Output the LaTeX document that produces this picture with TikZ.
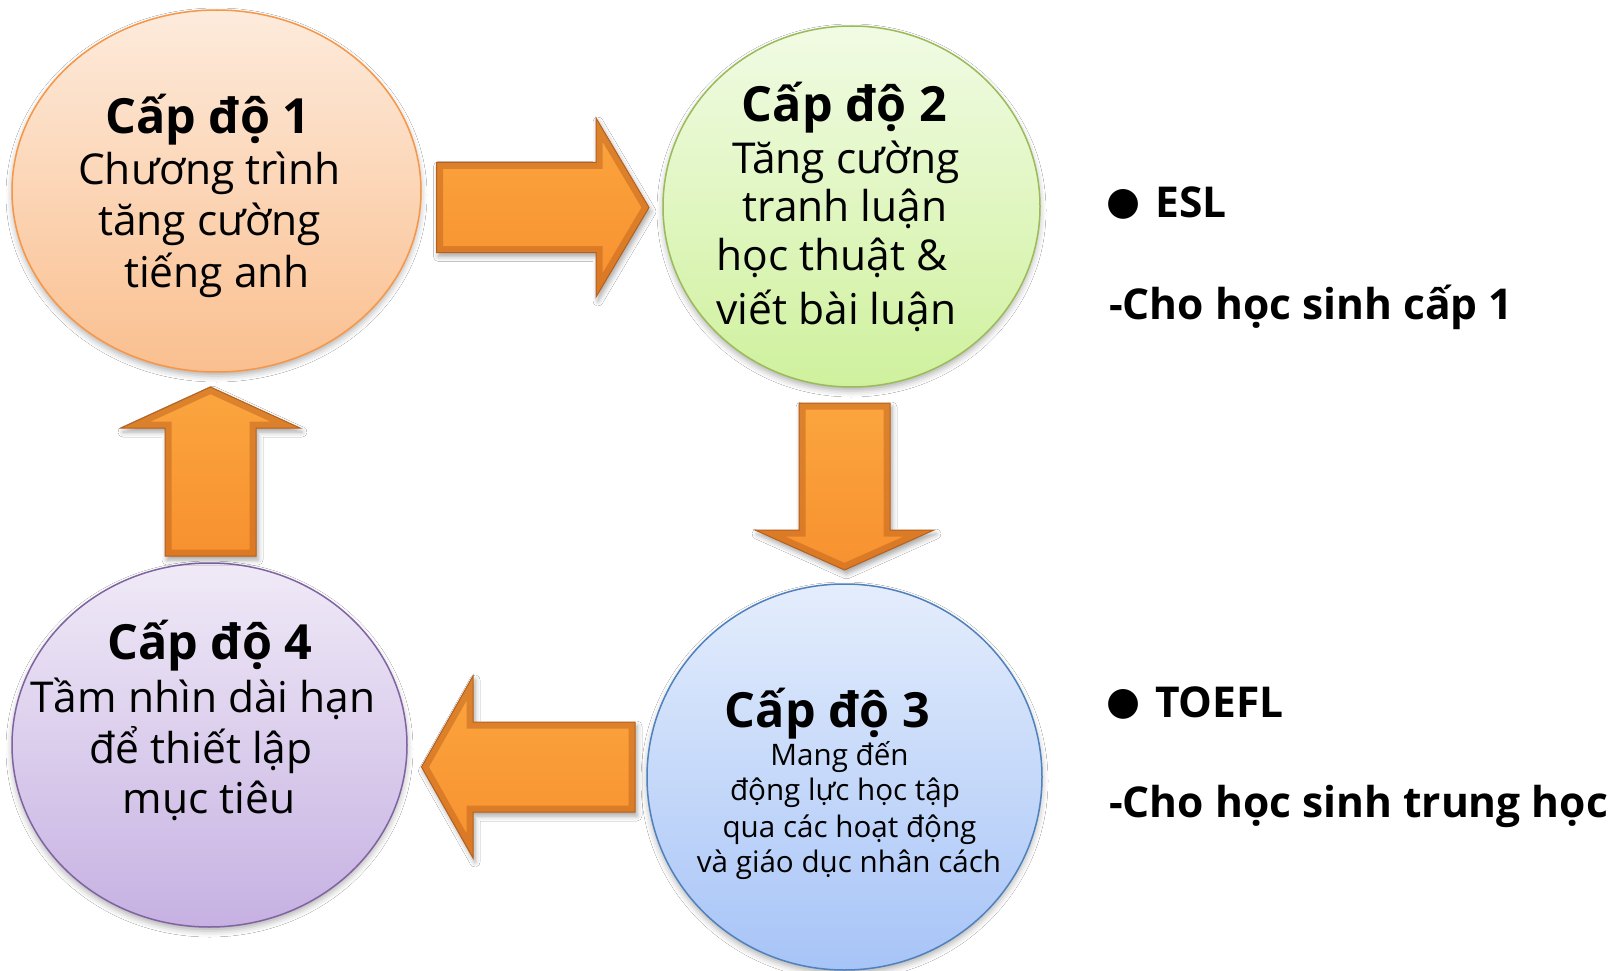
\documentclass[tikz,border=0pt]{standalone}
\usepackage{fontspec}
\setmainfont{Open Sans}
\newfontfamily\symfont{DejaVu Sans}
\usetikzlibrary{shapes.geometric,shadows.blur}

\definecolor{oTop}{HTML}{FDEBDC}\definecolor{oBot}{HTML}{FABF8F}\definecolor{oLine}{HTML}{F79646}
\definecolor{gTop}{HTML}{F1FBE4}\definecolor{gBot}{HTML}{CFF19D}\definecolor{gLine}{HTML}{9BBB59}
\definecolor{bTop}{HTML}{E4EDFC}\definecolor{bBot}{HTML}{A7C4F7}\definecolor{bLine}{HTML}{4F81BD}
\definecolor{pTop}{HTML}{F0EAF7}\definecolor{pBot}{HTML}{C6B1E2}\definecolor{pLine}{HTML}{8064A2}
\definecolor{arMain}{HTML}{F7912F}
\definecolor{arLight}{HTML}{FBA53F}
\definecolor{arDark}{HTML}{C0621C}
\definecolor{arEdge}{HTML}{B5601C}

\tikzset{
  blob/.style={ellipse, inner sep=0pt, line width=1.5pt,
    blur shadow={shadow xshift=0pt, shadow yshift=-4pt, shadow blur radius=6pt, shadow opacity=30}},
  ttl/.style={anchor=base, inner sep=0pt, font=\fontsize{48.5}{48.5}\selectfont\bfseries},
  bdy/.style={anchor=base, inner sep=0pt, font=\fontsize{42.5}{42.5}\selectfont},
  sml/.style={anchor=base, inner sep=0pt, font=\fontsize{29.6}{29.6}\selectfont},
  side/.style={anchor=base west, inner sep=0pt, font=\fontsize{42.5}{42.5}\selectfont\bfseries},
  arfill/.style={top color=arLight, bottom color=arMain,
    blur shadow={shadow xshift=2pt, shadow yshift=-4pt, shadow blur radius=5pt, shadow opacity=35}},
  arband/.style={draw=arDark, line width=13pt, opacity=0.5, line join=miter},
  aredge/.style={draw=arEdge, line width=1pt, line join=miter}
}
\newcommand{\bulletdot}{\raisebox{3pt}{\symfont\fontsize{39}{39}\selectfont ●}}

\begin{document}
\begin{tikzpicture}[x=1pt,y=-1pt]
\useasboundingbox[fill=white] (0,0) rectangle (1610,971);

% circles
\node[blob, draw=oLine, top color=oTop, bottom color=oBot,
      minimum width=409pt, minimum height=362pt] (c1) at (216.5,191) {};
\node[blob, draw=gLine, top color=gTop, bottom color=gBot,
      minimum width=377pt, minimum height=361pt] (c2) at (851.5,206.5) {};
\node[blob, draw=bLine, top color=bTop, bottom color=bBot,
      minimum width=395pt, minimum height=386pt] (c3) at (844.5,777) {};
\node[blob, draw=pLine, top color=pTop, bottom color=pBot,
      minimum width=395pt, minimum height=364pt] (c4) at (209.5,745) {};

% block arrows
\def\arrR{(436.5,162.5) -- (596,162.5) -- (596,118) -- (649,207.5) -- (596,297) -- (596,252.5) -- (436.5,252.5) -- cycle}
\def\arrD{(799,403) -- (890,403) -- (890,530) -- (934,530) -- (844.5,570) -- (755,530) -- (799,530) -- cycle}
\def\arrL{(635,722) -- (473,722) -- (473,676) -- (421.5,767) -- (473,858) -- (473,812) -- (635,812) -- cycle}
\def\arrU{(165,556) -- (165,428) -- (121,428) -- (210.5,387) -- (300,428) -- (256,428) -- (256,556) -- cycle}

\foreach \shp in {\arrR,\arrD,\arrL,\arrU}{
  \path[arfill] \shp;
  \begin{scope}
    \clip \shp;
    \path[arband] \shp;
  \end{scope}
  \path[aredge] \shp;
}

% texts circle 1
\node[ttl] (t1a) at (208,133.5) {Cấp độ 1};
\node[bdy] (t1b) at (209.5,185) {Chương trình};
\node[bdy] (t1c) at (209.5,236) {tăng cường};
\node[bdy] (t1d) at (217,287.5) {tiếng anh};

% circle 2
\node[ttl] (t2a) at (844.5,122) {Cấp độ 2};
\node[bdy] (t2b) at (846,174) {Tăng cường};
\node[bdy] (t2c) at (845,222) {tranh luận};
\node[bdy] (t2d) at (832,270) {học thuật \&};
\node[bdy] (t2e) at (836.5,324) {viết bài luận};

% circle 3
\node[ttl] (t3a) at (827.5,727) {Cấp độ 3};
\node[sml] (t3b) at (839.5,765) {Mang đến};
\node[sml] (t3c) at (845,800) {động lực học tập};
\node[sml] (t3d) at (849.5,837) {qua các hoạt động};
\node[sml] (t3e) at (849,872) {và giáo dục nhân cách};

% circle 4
\node[ttl] (t4a) at (210,659) {Cấp độ 4};
\node[bdy] (t4b) at (203,712) {Tầm nhìn dài hạn};
\node[bdy] (t4c) at (201,763) {để thiết lập};
\node[bdy] (t4d) at (209,813) {mục tiêu};

% side texts
\node[side] (s1) at (1106,218) {\bulletdot\hspace{15pt}ESL};
\node[side] (s2) at (1109,319) {-Cho học sinh cấp 1};
\node[side] (s3) at (1106,717) {\bulletdot\hspace{15pt}TOEFL};
\node[side] (s4) at (1109,817) {-Cho học sinh trung học};
\end{tikzpicture}
\end{document}
